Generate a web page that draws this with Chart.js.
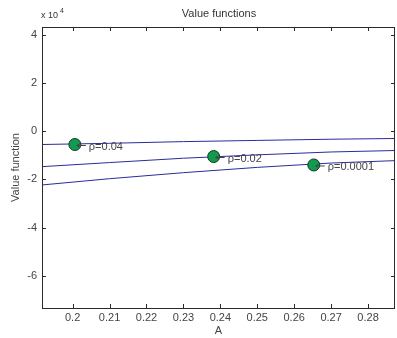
<!DOCTYPE html>
<html>
<head>
<meta charset="utf-8">
<script src="https://cdn.jsdelivr.net/npm/chart.js@4"></script>
<style>
  html, body { margin: 0; padding: 0; background: #fff; }
  #wrap { width: 397px; height: 338px; }
</style>
</head>
<body>
<div id="wrap"><canvas id="chart" width="397" height="338"></canvas></div>
<script>
// values are in units of 1e4
const xTicks = [0.2, 0.21, 0.22, 0.23, 0.24, 0.25, 0.26, 0.27, 0.28];
const yTicks = [4, 2, 0, -2, -4, -6];

const aGrid = [0.1917, 0.21, 0.23, 0.25, 0.27, 0.2873];
const v004 = [-0.55, -0.5, -0.43, -0.38, -0.33, -0.3];
const v002 = [-1.47, -1.3, -1.12, -0.98, -0.86, -0.8];
const v0001 = [-2.23, -1.97, -1.72, -1.5, -1.32, -1.22];

const markerA = [0.2006, 0.2382, 0.2653];
const markerV = [-0.55, -1.05, -1.4];
const markerLabels = ["ρ=0.04", "ρ=0.02", "ρ=0.0001"];

const FONT = "'Liberation Sans', Arial, sans-serif";
const lineColor = "#2b2b9c";

function pts(xs, ys) {
    return xs.map((x, i) => ({ x: x, y: ys[i] }));
}

const framePlugin = {
    id: "frame",
    afterDraw(chart) {
        const ctx = chart.ctx;
        const a = chart.chartArea;
        const xs = chart.scales.x, ys = chart.scales.y;
        ctx.save();
        ctx.strokeStyle = "#2a2a2a";
        ctx.lineWidth = 1;
        ctx.strokeRect(a.left + 0.5, a.top + 0.5, a.right - a.left - 1, a.bottom - a.top);
        ctx.beginPath();
        xTicks.forEach(v => {
            const px = Math.round(xs.getPixelForValue(v)) + 0.5;
            ctx.moveTo(px, a.bottom); ctx.lineTo(px, a.bottom - 4);
            ctx.moveTo(px, a.top); ctx.lineTo(px, a.top + 4);
        });
        yTicks.forEach(v => {
            const py = Math.round(ys.getPixelForValue(v)) + 0.5;
            ctx.moveTo(a.left, py); ctx.lineTo(a.left + 4, py);
            ctx.moveTo(a.right, py); ctx.lineTo(a.right - 4, py);
        });
        ctx.stroke();

        // title and exponent
        ctx.fillStyle = "#333";
        ctx.font = "11px " + FONT;
        ctx.textAlign = "center";
        ctx.textBaseline = "middle";
        ctx.fillText("Value functions", 219, 14);
        ctx.textAlign = "left";
        ctx.font = "9px " + FONT;
        ctx.fillText("x 10", 41, 16);
        ctx.font = "7px " + FONT;
        ctx.fillText("4", 60, 11);

        // marker labels
        ctx.font = "11px " + FONT;
        ctx.fillStyle = "#444";
        ctx.strokeStyle = "#444";
        markerA.forEach((x, i) => {
            const px = xs.getPixelForValue(x);
            const py = ys.getPixelForValue(markerV[i]);
            ctx.beginPath();
            ctx.moveTo(px + 2, py + 1);
            ctx.lineTo(px + 11, py + 1);
            ctx.moveTo(px + 2, py + 1);
            ctx.lineTo(px + 5, py - 1);
            ctx.moveTo(px + 2, py + 1);
            ctx.lineTo(px + 5, py + 3);
            ctx.stroke();
            ctx.fillText(markerLabels[i], px + 14, py + 2);
        });
        ctx.restore();
    }
};

const ctx = document.getElementById("chart").getContext("2d");
new Chart(ctx, {
    type: "scatter",
    data: {
        datasets: [
            { data: pts(markerA, markerV), backgroundColor: "#129a50", borderColor: "#0d3a20", borderWidth: 1, pointRadius: 6, showLine: false },
            { data: pts(aGrid, v004), borderColor: lineColor, borderWidth: 1, pointRadius: 0, showLine: true },
            { data: pts(aGrid, v002), borderColor: lineColor, borderWidth: 1, pointRadius: 0, showLine: true },
            { data: pts(aGrid, v0001), borderColor: lineColor, borderWidth: 1, pointRadius: 0, showLine: true }
        ]
    },
    options: {
        responsive: false,
        animation: false,
        layout: { autoPadding: false, padding: { top: 27, right: 2, left: 0, bottom: 0 } },
        plugins: { legend: { display: false }, tooltip: { enabled: false }, title: { display: false } },
        scales: {
            x: {
                type: "linear",
                min: 0.1917,
                max: 0.2873,
                afterBuildTicks: (s) => { s.ticks = xTicks.map(v => ({ value: v })); },
                afterFit: (s) => { s.height = 30; s.paddingLeft = 0; s.paddingRight = 0; },
                grid: { display: false, drawTicks: false },
                border: { display: false },
                ticks: { color: "#444", font: { family: FONT, size: 11 }, padding: 3, maxRotation: 0, callback: (v) => String(v) },
                title: { display: true, text: "A", color: "#444", font: { family: FONT, size: 11 }, padding: { top: 0, bottom: 0 } }
            },
            y: {
                type: "linear",
                min: -7.34,
                max: 4.33,
                afterBuildTicks: (s) => { s.ticks = yTicks.map(v => ({ value: v })); },
                afterFit: (s) => { s.width = 42; s.paddingTop = 0; s.paddingBottom = 0; },
                grid: { display: false, drawTicks: false },
                border: { display: false },
                ticks: { color: "#444", font: { family: FONT, size: 11 }, padding: 5, callback: (v) => String(v) },
                title: { display: true, text: "Value function", color: "#444", font: { family: FONT, size: 11 }, padding: { top: 9, bottom: 0 } }
            }
        }
    },
    plugins: [framePlugin]
});
</script>
</body>
</html>
